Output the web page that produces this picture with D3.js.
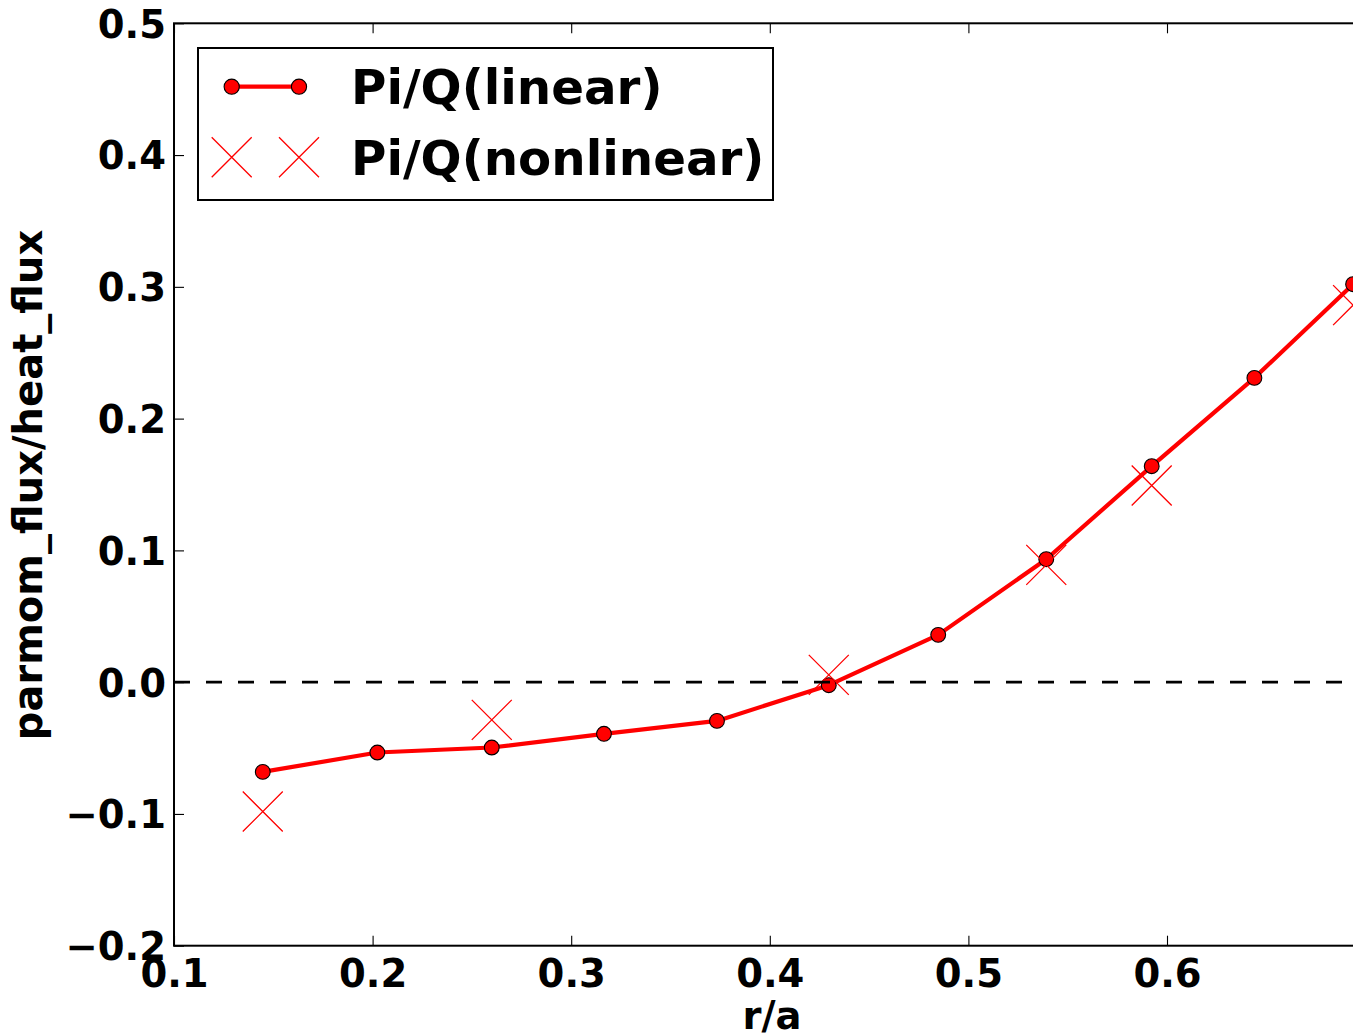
<!DOCTYPE html>
<html>
<head>
<meta charset="utf-8">
<script src="https://cdn.jsdelivr.net/npm/d3@7"></script>
<style>
  html, body { margin: 0; padding: 0; background: #fff; overflow: hidden; }
  svg { display: block; }
  text { font-family: "DejaVu Sans", sans-serif; font-weight: bold; fill: #000; }
</style>
</head>
<body>
<svg id="chart" width="1353" height="1034"></svg>
<script>
// Normalised radius r/a of each flux-tube simulation
const radius = [0.1447, 0.2024, 0.2600, 0.3165, 0.3734, 0.4297, 0.4848, 0.5392, 0.5923, 0.6440, 0.6937];
// Ratio of parallel momentum flux to heat flux, linear runs
const ratioLinear = [-0.0681, -0.0534, -0.0496, -0.0392, -0.0294, -0.0023, 0.0359, 0.0933, 0.1639, 0.2309, 0.3020];
// Nonlinear runs (subset of radii)
const radiusNonlinear = [0.1447, 0.2600, 0.4297, 0.5392, 0.5923, 0.6937];
const ratioNonlinear = [-0.0982, -0.0286, 0.0055, 0.0890, 0.1492, 0.2861];

const xTicks = [0.1, 0.2, 0.3, 0.4, 0.5, 0.6];
const yTicks = [-0.2, -0.1, 0.0, 0.1, 0.2, 0.3, 0.4, 0.5];
const seriesNames = ["Pi/Q(linear)", "Pi/Q(nonlinear)"];

const svg = d3.select("#chart");
const plotLeft = 174, plotRight = 1365.6, plotTop = 23.3, plotBottom = 945.7;
const red = "#ff0000";
const fs = 38.5;

const x = d3.scaleLinear().domain([0.1, 0.7]).range([plotLeft, plotRight]);
const y = d3.scaleLinear().domain([-0.2, 0.5]).range([plotBottom, plotTop]);

const fmt = v => (v < 0 ? "\u2212" : "") + Math.abs(v).toFixed(1);

svg.append("clipPath").attr("id", "plotclip")
  .append("rect").attr("x", plotLeft).attr("y", plotTop)
  .attr("width", plotRight - plotLeft).attr("height", plotBottom - plotTop);

const plot = svg.append("g").attr("clip-path", "url(#plotclip)");

// Linear series: thick line with circle markers
const linData = radius.map((r, i) => [r, ratioLinear[i]]);
plot.append("path")
  .datum(linData)
  .attr("d", d3.line().x(d => x(d[0])).y(d => y(d[1])))
  .attr("fill", "none").attr("stroke", red).attr("stroke-width", 4.2)
  .attr("stroke-linejoin", "round");
plot.selectAll("circle.lin").data(linData).join("circle")
  .attr("class", "lin")
  .attr("cx", d => x(d[0])).attr("cy", d => y(d[1])).attr("r", 7.4)
  .attr("fill", red).attr("stroke", "#000").attr("stroke-width", 1.1);

// Nonlinear series: x markers only
const xMark = (g, cx, cy, h) => {
  g.append("path")
    .attr("d", `M${cx - h},${cy - h}L${cx + h},${cy + h}M${cx - h},${cy + h}L${cx + h},${cy - h}`)
    .attr("stroke", red).attr("stroke-width", 1.3).attr("fill", "none");
};
radiusNonlinear.forEach((r, i) => xMark(plot, x(r), y(ratioNonlinear[i]), 20));

// Zero reference line
plot.append("line")
  .attr("x1", plotLeft).attr("x2", plotRight).attr("y1", y(0)).attr("y2", y(0))
  .attr("stroke", "#000").attr("stroke-width", 2.6).attr("stroke-dasharray", "16,16");

// Axes with inward ticks
const tickLen = 10;
const axisG = svg.append("g");
const xb = d3.axisBottom(x).tickValues(xTicks).tickSize(-tickLen).tickPadding(12).tickFormat(fmt);
const xt = d3.axisTop(x).tickValues(xTicks).tickSize(-tickLen).tickFormat("");
const yl = d3.axisLeft(y).tickValues(yTicks).tickSize(-tickLen).tickPadding(8).tickFormat(fmt);
const gx = axisG.append("g").attr("transform", `translate(0,${plotBottom})`).call(xb);
const gxt = axisG.append("g").attr("transform", `translate(0,${plotTop})`).call(xt);
const gy = axisG.append("g").attr("transform", `translate(${plotLeft},0)`).call(yl);
[gx, gxt, gy].forEach(g => {
  g.select(".domain").remove();
  g.selectAll(".tick line").attr("stroke", "#000").attr("stroke-width", 1.1);
  g.selectAll("text").attr("font-size", fs).attr("font-family", "DejaVu Sans").attr("font-weight", "bold");
});
gx.selectAll("text").attr("dy", null).attr("y", 41);
gy.selectAll("text").attr("dy", "0.36em");

// Frame
axisG.append("rect")
  .attr("x", plotLeft).attr("y", plotTop).attr("width", plotRight - plotLeft).attr("height", plotBottom - plotTop)
  .attr("fill", "none").attr("stroke", "#000").attr("stroke-width", 2);

// Axis titles
svg.append("text").attr("x", 772).attr("y", 1029)
  .attr("text-anchor", "middle").attr("font-size", fs).text("r/a");
svg.append("text")
  .attr("transform", "translate(42,485) rotate(-90)")
  .attr("text-anchor", "middle").attr("font-size", 40).text("parmom_flux/heat_flux");

// Legend
const lg = svg.append("g");
lg.append("rect").attr("x", 198).attr("y", 48).attr("width", 575).attr("height", 152)
  .attr("fill", "#fff").attr("stroke", "#000").attr("stroke-width", 2);
const row1 = 86.7, row2 = 157.3, m1 = 231.7, m2 = 299;
lg.append("line").attr("x1", m1).attr("x2", m2).attr("y1", row1).attr("y2", row1)
  .attr("stroke", red).attr("stroke-width", 4.2);
[m1, m2].forEach(mx => lg.append("circle").attr("cx", mx).attr("cy", row1).attr("r", 7.6)
  .attr("fill", red).attr("stroke", "#000").attr("stroke-width", 1.1));
[m1, m2].forEach(mx => xMark(lg, mx, row2, 20));
lg.append("text").attr("x", 351).attr("y", row1 + 17.5).attr("font-size", 48.3).text(seriesNames[0]);
lg.append("text").attr("x", 351).attr("y", row2 + 17.5).attr("font-size", 48.3).text(seriesNames[1]);
</script>
</body>
</html>
